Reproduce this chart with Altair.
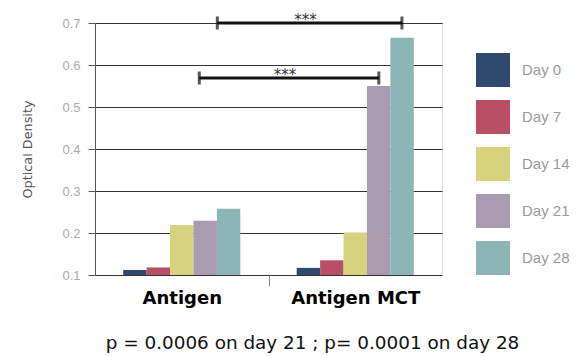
import altair as alt
import pandas as pd

groups = ["Antigen", "Antigen MCT"]
days = ["Day 0", "Day 7", "Day 14", "Day 21", "Day 28"]
antigen = [0.112, 0.118, 0.219, 0.229, 0.258]
antigen_mct = [0.117, 0.135, 0.201, 0.550, 0.665]
colors = ["#304a6f", "#b84f65", "#d6d27e", "#ab9bb1", "#8cb5b6"]
y_ticks = [0.1, 0.2, 0.3, 0.4, 0.5, 0.6, 0.7]
baseline = 0.1

# significance brackets: (x start, x end, y level, label)
sig_x1 = [0.705, 0.601]
sig_x2 = [1.769, 1.636]
sig_y = [0.700, 0.569]
sig_label = ["***", "***"]

bar_w = 0.135

rows = []
for gi, (g, vals) in enumerate(zip(groups, [antigen, antigen_mct])):
    for di, (d, v) in enumerate(zip(days, vals)):
        c = gi + 0.5 + (di - 2) * bar_w
        rows.append({"group": g, "day": d, "value": v,
                     "x1": c - bar_w / 2, "x2": c + bar_w / 2})
bars_df = pd.DataFrame(rows)

sig_df = pd.DataFrame({"x1": sig_x1, "x2": sig_x2, "y": sig_y, "label": sig_label})
sig_df["xm"] = (sig_df["x1"] + sig_df["x2"]) / 2
caps_df = pd.DataFrame({"x": sig_x1 + sig_x2, "y": sig_y + sig_y})

xscale = alt.Scale(domain=[0, 2], nice=False, zero=False)
yscale = alt.Scale(domain=[0.1, 0.7], nice=False, zero=False)

label_expr = "datum.value == 0.5 ? 'Antigen' : (datum.value == 1.5 ? 'Antigen MCT' : '')"

bars = alt.Chart(bars_df).mark_bar(strokeWidth=0).encode(
    x=alt.X("x1:Q", scale=xscale,
            axis=alt.Axis(values=[0.5, 1.0, 1.5], labelExpr=label_expr, title=None,
                          grid=False, domain=False, labelFont="DejaVu Sans",
                          labelFontSize=18, labelFontWeight="bold", labelColor="#000",
                          labelPadding=3, tickSize=11,
                          tickColor={"condition": {"test": "datum.value == 1", "value": "#888"},
                                     "value": "transparent"},
                          tickWidth=1)),
    x2="x2:Q",
    y=alt.Y("value:Q", scale=yscale,
            axis=alt.Axis(values=y_ticks, format=".1f", title="Optical Density",
                          titleFont="DejaVu Sans", titleFontSize=12.8,
                          titleFontWeight="normal", titleColor="#555",
                          titleX=-68, titleY=126, titleAngle=270, titleBaseline="middle",
                          labelFont="Liberation Sans", labelFontSize=13, labelColor="#aaa",
                          labelPadding=8, tickSize=7, tickColor="#555",
                          domainColor="#555", gridColor="#333", gridWidth=1, gridOpacity=1)),
    y2=alt.datum(baseline),
    color=alt.Color("day:N", scale=alt.Scale(domain=days, range=colors),
                    legend=alt.Legend(title=None, orient="none", legendX=381, legendY=30,
                                      symbolType="square", symbolSize=1156,
                                      symbolStrokeWidth=0, symbolOpacity=1,
                                      rowPadding=13, labelOffset=12,
                                      labelFont="Liberation Sans", labelFontSize=15,
                                      labelColor="#9a9a9a")),
)

sig_lines = alt.Chart(sig_df).mark_rule(color="#111", strokeWidth=3).encode(
    x=alt.X("x1:Q", scale=xscale), x2="x2:Q", y=alt.Y("y:Q", scale=yscale)
)
sig_caps = alt.Chart(caps_df).mark_tick(color="#111", thickness=3, size=13, orient="vertical").encode(
    x=alt.X("x:Q", scale=xscale), y=alt.Y("y:Q", scale=yscale)
)
sig_text = alt.Chart(sig_df).mark_text(font="DejaVu Sans", fontSize=15, color="#333",
                                       dy=2, dx=-4, baseline="alphabetic").encode(
    x=alt.X("xm:Q", scale=xscale), y=alt.Y("y:Q", scale=yscale), text="label:N"
)

chart = alt.layer(bars, sig_lines, sig_caps, sig_text).properties(
    width=347, height=252,
    autosize=alt.AutoSizeParams(type="none"),
    padding={"left": 95, "top": 23, "right": 134, "bottom": 81},
    title=alt.TitleParams("p = 0.0006 on day 21 ; p= 0.0001 on day 28", orient="bottom",
                          font="DejaVu Sans", fontSize=18.4, fontWeight="normal",
                          color="#111", offset=27, dx=44),
).configure_view(stroke=None).configure(background="white")

chart.save("out.html", embed_options={"renderer": "svg", "actions": False})
